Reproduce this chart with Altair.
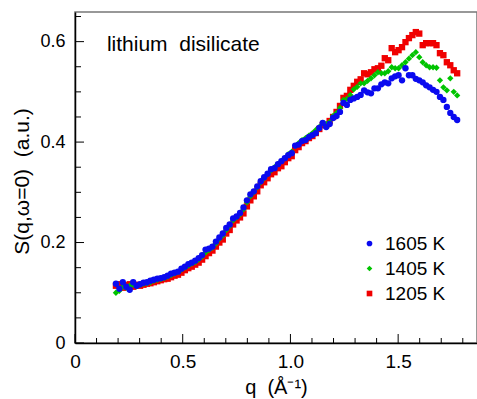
import altair as alt
import pandas as pd

# ---------------- data ----------------
q_vals = [
    0.190, 0.206, 0.222, 0.238, 0.254, 0.270, 0.286, 0.302, 0.318, 0.334,
    0.350, 0.366, 0.382, 0.398, 0.414, 0.430, 0.446, 0.462, 0.478, 0.494,
    0.510, 0.526, 0.542, 0.558, 0.574, 0.590, 0.606, 0.622, 0.638, 0.654,
    0.670, 0.686, 0.702, 0.718, 0.734, 0.750, 0.766, 0.782, 0.798, 0.814,
    0.830, 0.846, 0.862, 0.878, 0.894, 0.910, 0.926, 0.942, 0.958, 0.974,
    0.990, 1.006, 1.022, 1.038, 1.054, 1.070, 1.086, 1.102, 1.118, 1.134,
    1.150, 1.166, 1.182, 1.198, 1.214, 1.230, 1.246, 1.262, 1.278, 1.294,
    1.310, 1.326, 1.342, 1.358, 1.374, 1.390, 1.406, 1.422, 1.438, 1.454,
    1.470, 1.486, 1.502, 1.518, 1.534, 1.550, 1.566, 1.582, 1.598, 1.614,
    1.630, 1.646, 1.662, 1.678, 1.694, 1.710, 1.726, 1.742, 1.758, 1.774,
]

s_1605 = [
    0.118, 0.108, 0.121, 0.112, 0.106, 0.121, 0.114, 0.117, 0.120, 0.121,
    0.124, 0.126, 0.128, 0.129, 0.131, 0.134, 0.138, 0.140, 0.142, 0.148,
    0.152, 0.157, 0.160, 0.164, 0.169, 0.175, 0.186, 0.188, 0.192, 0.202,
    0.210, 0.218, 0.229, 0.236, 0.248, 0.252, 0.259, 0.270, 0.284, 0.296,
    0.302, 0.312, 0.322, 0.330, 0.337, 0.346, 0.348, 0.356, 0.362, 0.368,
    0.374, 0.378, 0.393, 0.395, 0.402, 0.404, 0.410, 0.414, 0.418, 0.428,
    0.438, 0.430, 0.436, 0.448, 0.452, 0.460, 0.478, 0.474, 0.484, 0.487,
    0.490, 0.494, 0.503, 0.499, 0.497, 0.507, 0.507, 0.515, 0.519, 0.517,
    0.527, 0.531, 0.533, 0.523, 0.547, 0.533, 0.533, 0.526, 0.523, 0.519,
    0.513, 0.509, 0.504, 0.500, 0.490, 0.484, 0.470, 0.458, 0.450, 0.444,
]

s_1405 = [
    0.100, 0.104, 0.112, 0.110, 0.114, 0.116, 0.113, 0.116, 0.118, 0.119,
    0.121, 0.124, 0.126, 0.127, 0.129, 0.132, 0.135, 0.138, 0.141, 0.146,
    0.150, 0.154, 0.158, 0.161, 0.166, 0.172, 0.180, 0.185, 0.190, 0.198,
    0.207, 0.214, 0.225, 0.233, 0.244, 0.250, 0.256, 0.266, 0.280, 0.292,
    0.300, 0.310, 0.320, 0.328, 0.336, 0.344, 0.350, 0.356, 0.362, 0.368,
    0.376, 0.381, 0.392, 0.398, 0.404, 0.408, 0.413, 0.418, 0.424, 0.430,
    0.438, 0.436, 0.440, 0.452, 0.458, 0.468, 0.484, 0.486, 0.494, 0.505,
    0.510, 0.517, 0.517, 0.522, 0.527, 0.533, 0.539, 0.537, 0.537, 0.541,
    0.549, 0.547, 0.547, 0.553, 0.559, 0.566, 0.573, 0.579, 0.569, 0.559,
    0.553, 0.549, 0.549, 0.548, 0.523, 0.509, 0.503, 0.527, 0.500, 0.493,
]

s_1205 = [
    0.114, 0.117, 0.110, 0.115, 0.117, 0.112, 0.116, 0.114, 0.116, 0.118,
    0.119, 0.121, 0.123, 0.125, 0.127, 0.128, 0.131, 0.134, 0.136, 0.140,
    0.145, 0.149, 0.152, 0.156, 0.160, 0.166, 0.173, 0.179, 0.184, 0.192,
    0.200, 0.206, 0.218, 0.225, 0.236, 0.244, 0.250, 0.258, 0.272, 0.284,
    0.292, 0.302, 0.314, 0.320, 0.328, 0.336, 0.340, 0.348, 0.352, 0.360,
    0.368, 0.372, 0.384, 0.390, 0.398, 0.402, 0.408, 0.412, 0.418, 0.426,
    0.434, 0.434, 0.442, 0.450, 0.460, 0.472, 0.488, 0.492, 0.504, 0.512,
    0.520, 0.525, 0.537, 0.535, 0.539, 0.545, 0.547, 0.552, 0.567, 0.563,
    0.587, 0.579, 0.583, 0.589, 0.599, 0.607, 0.613, 0.619, 0.616, 0.593,
    0.597, 0.597, 0.597, 0.593, 0.577, 0.573, 0.559, 0.553, 0.543, 0.537,
]

series_labels = ["1605 K", "1405 K", "1205 K"]
series_colors = ["#0a0aef", "#00c400", "#f00000"]
series_shapes = ["circle", "diamond", "square"]

x_ticks_major = [0.0, 0.5, 1.0, 1.5]
x_ticks_minor = [0.1, 0.2, 0.3, 0.4, 0.6, 0.7, 0.8, 0.9, 1.1, 1.2, 1.3, 1.4, 1.6, 1.7, 1.8]
y_ticks_major = [0.0, 0.2, 0.4, 0.6]
y_ticks_minor = [0.05, 0.1, 0.15, 0.25, 0.3, 0.35, 0.45, 0.5, 0.55, 0.65]

annotation_text = ["lithium\u00a0 disilicate"]
annotation_q = [0.148]
annotation_s = [0.593]

x_title = "q\u00a0 (Å⁻¹)"
y_title = "S(q,ω=0)\u00a0 (a.u.)"

# ---------------- layout ----------------
FONT = "Liberation Sans"
W, H = 402, 331
x_scale = alt.Scale(domain=[0, 1.866], nice=False, zero=False)
y_scale = alt.Scale(domain=[0, 0.659], nice=False, zero=False)

x_axis = alt.Axis(
    values=x_ticks_major, ticks=False, grid=False, labelFlush=False,
    labelExpr="datum.value == 0 ? '0' : format(datum.value, '.1f')",
    labelFont=FONT, labelFontSize=19, labelColor="black", labelPadding=9,
    domainColor="black", domainWidth=1.5,
    title=x_title, titleFont=FONT, titleFontSize=20, titleFontWeight="normal",
    titleColor="black", titleY=50, titleBaseline="alphabetic",
)
y_axis = alt.Axis(
    values=y_ticks_major, ticks=False, grid=False, labelFlush=False,
    labelExpr="datum.value == 0 ? '0' : format(datum.value, '.1f')",
    labelFont=FONT, labelFontSize=18, labelColor="black", labelPadding=10,
    domainColor="black", domainWidth=1.5,
    title=y_title, titleFont=FONT, titleFontSize=21,
    titleFontWeight="normal", titleColor="black",
    titleX=-53, titleY=169, titleAngle=270, titleAlign="center", titleBaseline="middle",
)

# draw order: red at bottom, then green, blue on top
frames = []
for lab, vals in [("1205 K", s_1205), ("1405 K", s_1405), ("1605 K", s_1605)]:
    frames.append(pd.DataFrame({"q": q_vals, "s": vals, "T": lab}))
df = pd.concat(frames, ignore_index=True)

legend = alt.Legend(
    title=None, orient="none", legendX=285, legendY=222,
    labelFont=FONT, labelFontSize=19, labelColor="black",
    symbolSize=32, symbolStrokeWidth=0, labelOffset=6,
    rowPadding=5, padding=0,
)

points = alt.Chart(df).mark_point(filled=True, opacity=1, size=40, strokeWidth=0).encode(
    x=alt.X("q:Q", scale=x_scale, axis=x_axis),
    y=alt.Y("s:Q", scale=y_scale, axis=y_axis),
    color=alt.Color("T:N", scale=alt.Scale(domain=series_labels, range=series_colors), legend=legend),
    shape=alt.Shape("T:N", scale=alt.Scale(domain=series_labels, range=series_shapes), legend=legend),
)

def vrule(vals, length):
    d = pd.DataFrame({"s": vals})
    return alt.Chart(d).mark_rule(color="black", strokeWidth=1).encode(
        y=alt.Y("s:Q", scale=y_scale, axis=y_axis),
        x=alt.value(0), x2=alt.value(length),
    )

def hrule(vals, length):
    d = pd.DataFrame({"q": vals})
    return alt.Chart(d).mark_rule(color="black", strokeWidth=1).encode(
        x=alt.X("q:Q", scale=x_scale, axis=x_axis),
        y=alt.value(H), y2=alt.value(H - length),
    )

ann = alt.Chart(pd.DataFrame({"q": annotation_q, "s": annotation_s, "t": annotation_text})).mark_text(
    align="left", baseline="middle", font=FONT, fontSize=21, color="black"
).encode(
    x=alt.X("q:Q", scale=x_scale, axis=x_axis),
    y=alt.Y("s:Q", scale=y_scale, axis=y_axis),
    text="t:N",
)

chart = alt.layer(
    points,
    vrule(y_ticks_minor, 6), vrule(y_ticks_major, 9),
    hrule(x_ticks_minor, 5), hrule(x_ticks_major, 9),
    ann,
).properties(
    width=W, height=H,
    autosize=alt.AutoSizeParams(type="none"),
    padding={"left": 75, "top": 12, "right": 0, "bottom": 56},
    background="white",
).configure_view(stroke="#777777", strokeWidth=1.5)

chart.save("out.html", embed_options={"renderer": "svg", "actions": False})
